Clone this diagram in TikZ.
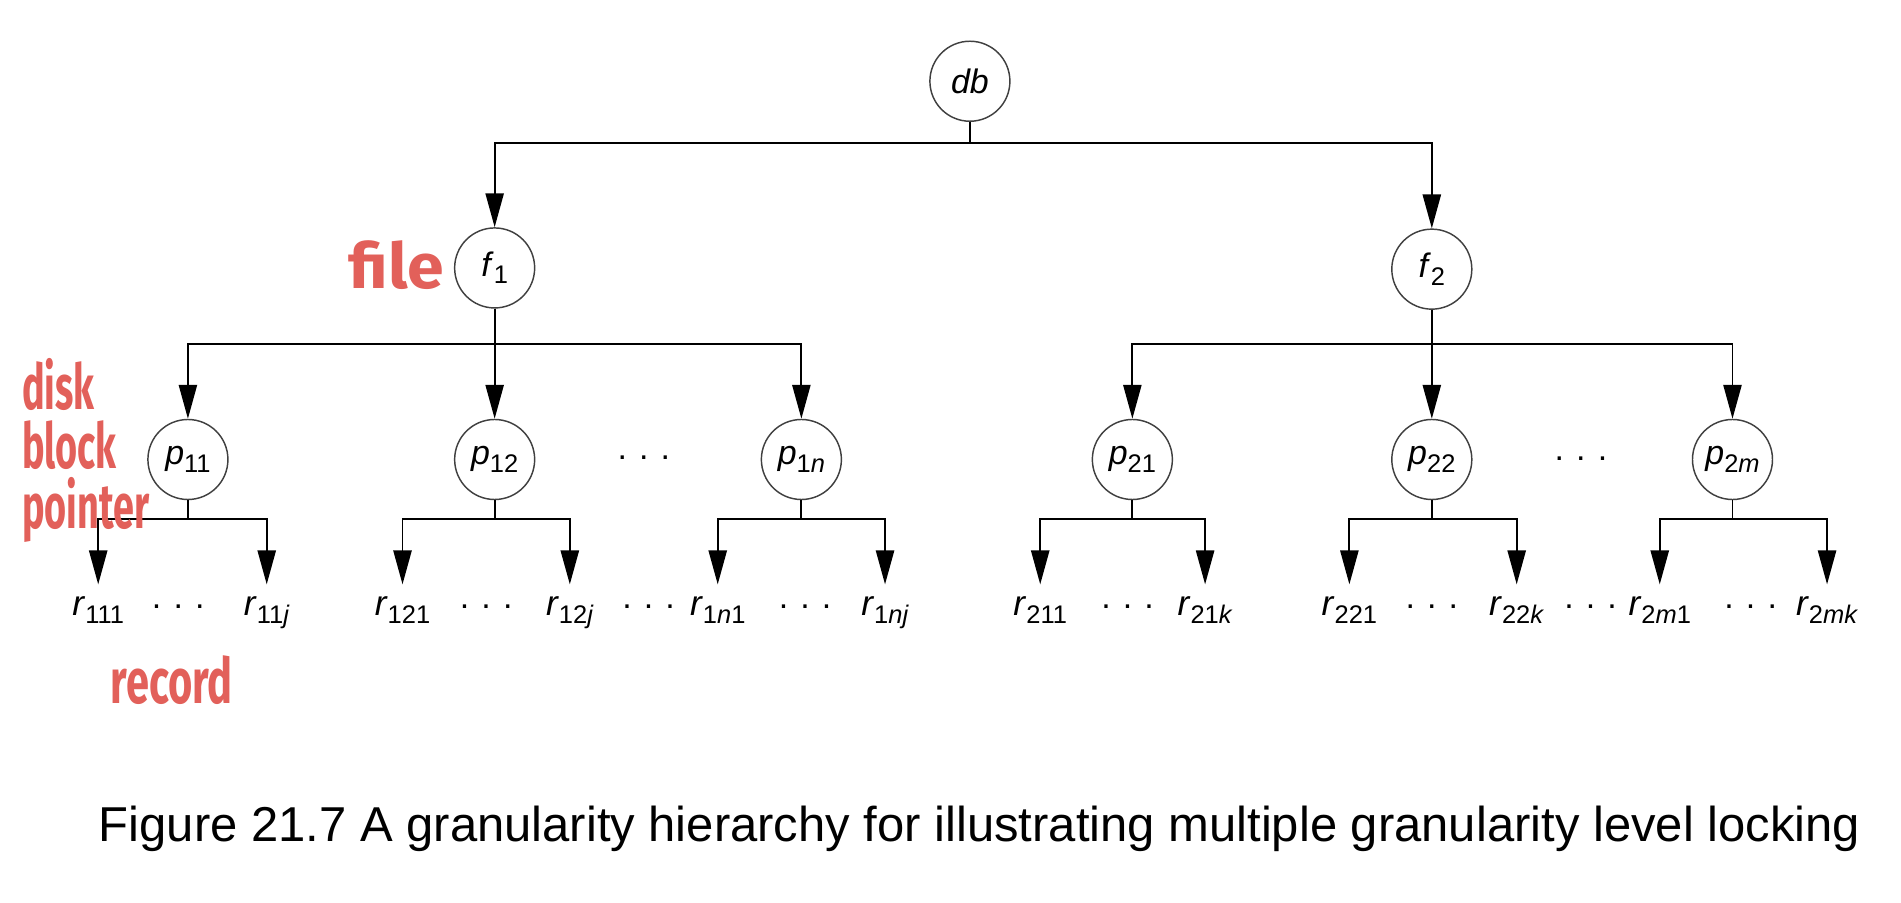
\documentclass[tikz,border=0pt]{standalone}
\usepackage{fontspec}
\setmainfont{Liberation Sans}
\newfontfamily\handfont{Fira Sans}
\usetikzlibrary{arrows.meta}
\definecolor{penred}{HTML}{E2605A}
\newcommand{\lbl}[2]{\textit{#1}\raisebox{-3pt}{\fontsize{10.5}{12}\selectfont #2}}
\newcommand{\hdots}{.\hspace{5pt}.\hspace{5pt}.}
\tikzset{
	lvl/.style={draw=black!75, circle, line width=0.6pt, minimum size=33pt, inner sep=0pt, font=\fontsize{14}{16}\selectfont},
	leaf/.style={anchor=base, inner sep=0pt, font=\fontsize{14.5}{16}\selectfont},
	dotsnode/.style={anchor=base, inner sep=0pt, font=\fontsize{14}{16}\selectfont},
	arr/.style={line width=0.8pt, -{Triangle[length=14pt, width=7.5pt]}},
	leafarr/.style={arr, shorten >=5pt},
	hand/.style={text=penred, inner sep=0pt, align=left, font=\handfont\bfseries\fontsize{26}{24.5}\selectfont},
	capt/.style={anchor=base, inner sep=0pt, font=\fontsize{20.2}{23}\selectfont}
}

\begin{document}
\begin{tikzpicture}[x=0.5pt, y=-0.5pt]
		%%%%% START %%%%%
		\useasboundingbox (0,0) rectangle (1568,744);
		
		% levels: database, files, pages
		\node[lvl] (db) at (800,67) {\textit{db}};
		\node[lvl] (f1) at (408,221) {\lbl{f}{1}};
		\node[lvl] (f2) at (1181,222) {\lbl{f}{2}};
		
		\node[lvl] (p11) at (155,379) {\lbl{p}{11}};
		\node[lvl] (p12) at (408,379) {\lbl{p}{12}};
		\node[lvl] (p1n) at (661,379) {\lbl{p}{1\textit{n}}};
		\node[lvl] (p21) at (934,379) {\lbl{p}{21}};
		\node[lvl] (p22) at (1181,379) {\lbl{p}{22}};
		\node[lvl] (p2m) at (1429,379) {\lbl{p}{2\textit{m}}};
		
		\node[dotsnode] (pdotsa) at (531,379) {\hdots};
		\node[dotsnode] (pdotsb) at (1304,380) {\hdots};
		
		% records
		\node[leaf] (r111) at (81,508) {\lbl{r}{111}};
		\node[leaf] (r11j) at (220,508) {\lbl{r}{11\textit{j}}};
		\node[leaf] (r121) at (332,508) {\lbl{r}{121}};
		\node[leaf] (r12j) at (470,508) {\lbl{r}{12\textit{j}}};
		\node[leaf] (r1n1) at (592,508) {\lbl{r}{1\textit{n}1}};
		\node[leaf] (r1nj) at (730,508) {\lbl{r}{1\textit{nj}}};
		\node[leaf] (r211) at (858,508) {\lbl{r}{211}};
		\node[leaf] (r21k) at (994,508) {\lbl{r}{21\textit{k}}};
		\node[leaf] (r221) at (1113,508) {\lbl{r}{221}};
		\node[leaf] (r22k) at (1251,508) {\lbl{r}{22\textit{k}}};
		\node[leaf] (r2m1) at (1369,508) {\lbl{r}{2\textit{m}1}};
		\node[leaf] (r2mk) at (1507,508) {\lbl{r}{2\textit{mk}}};
		
		\node[dotsnode] (rdotsa) at (147,502) {\hdots};
		\node[dotsnode] (rdotsb) at (401,502) {\hdots};
		\node[dotsnode] (rdotsc) at (535,502) {\hdots};
		\node[dotsnode] (rdotsd) at (664,502) {\hdots};
		\node[dotsnode] (rdotse) at (930,502) {\hdots};
		\node[dotsnode] (rdotsf) at (1181,502) {\hdots};
		\node[dotsnode] (rdotsg) at (1312,502) {\hdots};
		\node[dotsnode] (rdotsh) at (1444,502) {\hdots};
		
		% bars
		\coordinate (dbbar) at (800,118);
		\coordinate (f1bar) at (408,284);
		\coordinate (f2bar) at (1181,284);
		\coordinate (p11bar) at (155,428);
		\coordinate (p12bar) at (408,428);
		\coordinate (p1nbar) at (661,428);
		\coordinate (p21bar) at (934,428);
		\coordinate (p22bar) at (1181,428);
		\coordinate (p2mbar) at (1429,428);
		
		\draw[arr] (db) -- (dbbar) -| (f1);
		\draw[arr] (db) -- (dbbar) -| (f2);
		
		\draw[arr] (f1) -- (f1bar) -| (p11);
		\draw[arr] (f1) -- (f1bar) -| (p12);
		\draw[arr] (f1) -- (f1bar) -| (p1n);
		\draw[arr] (f2) -- (f2bar) -| (p21);
		\draw[arr] (f2) -- (f2bar) -| (p22);
		\draw[arr] (f2) -- (f2bar) -| (p2m);
		
		\draw[leafarr] (p11) -- (p11bar) -| (r111.north);
		\draw[leafarr] (p11) -- (p11bar) -| (r11j.north);
		\draw[leafarr] (p12) -- (p12bar) -| (r121.north);
		\draw[leafarr] (p12) -- (p12bar) -| (r12j.north);
		\draw[leafarr] (p1n) -- (p1nbar) -| (r1n1.north);
		\draw[leafarr] (p1n) -- (p1nbar) -| (r1nj.north);
		\draw[leafarr] (p21) -- (p21bar) -| (r211.north);
		\draw[leafarr] (p21) -- (p21bar) -| (r21k.north);
		\draw[leafarr] (p22) -- (p22bar) -| (r221.north);
		\draw[leafarr] (p22) -- (p22bar) -| (r22k.north);
		\draw[leafarr] (p2m) -- (p2mbar) -| (r2m1.north);
		\draw[leafarr] (p2m) -- (p2mbar) -| (r2mk.north);
		
		% handwritten notes
		\node[hand, anchor=base west, xscale=1.05] (filenote) at (287,238) {file};
		\node[hand, anchor=north west, xscale=0.6] (blocknote) at (18,295) {disk\\block\\pointer};
		\node[hand, anchor=base west, xscale=0.66] (recordnote) at (91,580) {record};
		
		\node[capt] (caption) at (808,694) {Figure 21.7 A granularity hierarchy for illustrating multiple granularity level locking};
		%%%%% END %%%%%
\end{tikzpicture}
\end{document}
